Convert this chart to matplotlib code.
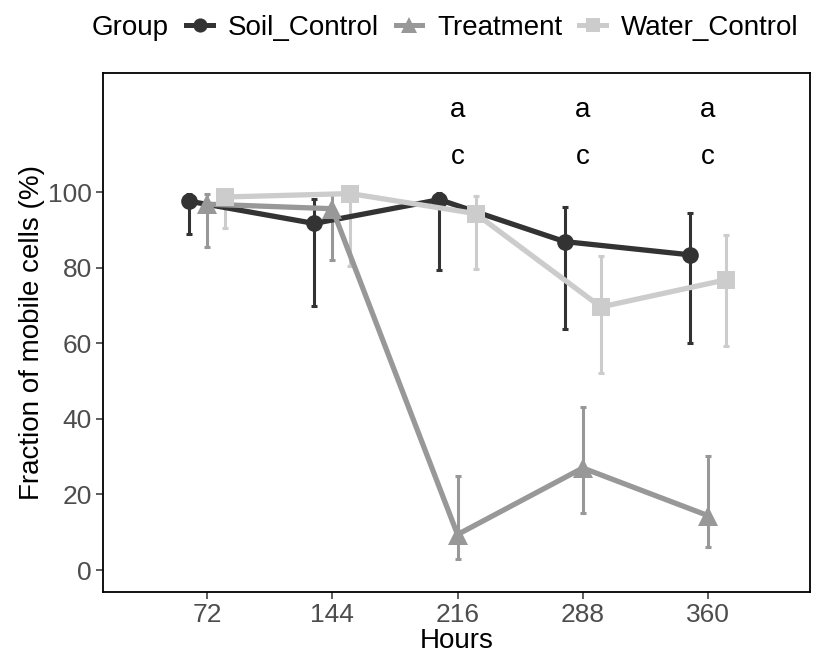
import matplotlib
matplotlib.use("Agg")
import matplotlib.pyplot as plt
from matplotlib.lines import Line2D
import numpy as np

plt.rcParams['font.family'] = ['Liberation Sans', 'DejaVu Sans']

hours = [72, 144, 216, 288, 360]
groups = ["Soil_Control", "Treatment", "Water_Control"]
means = {
    "Soil_Control": [97.6, 91.7, 98.0, 86.9, 83.4],
    "Treatment": [96.8, 95.6, 9.4, 27.0, 14.4],
    "Water_Control": [98.7, 99.6, 94.3, 69.6, 76.8],
}
lower = {
    "Soil_Control": [89.0, 69.8, 79.3, 63.9, 60.0],
    "Treatment": [85.4, 82.0, 2.9, 15.0, 6.2],
    "Water_Control": [90.4, 80.4, 79.6, 52.1, 59.3],
}
upper = {
    "Soil_Control": [99.5, 98.1, 99.8, 96.1, 94.5],
    "Treatment": [99.5, 99.5, 24.9, 43.2, 30.2],
    "Water_Control": [99.5, 99.9, 99.0, 83.1, 88.6],
}
annot_hours = [216, 288, 360]
annot_upper = ["a", "a", "a"]
annot_lower = ["c", "c", "c"]

colors = {"Soil_Control": "#333333", "Treatment": "#989898", "Water_Control": "#CCCCCC"}
markers = {"Soil_Control": "o", "Treatment": "^", "Water_Control": "s"}
msizes = {"Soil_Control": 12, "Treatment": 14, "Water_Control": 12.5}
offsets = {"Soil_Control": -10.4, "Treatment": 0.0, "Water_Control": 10.4}

fig = plt.figure(figsize=(8.25, 6.56), dpi=100)
ax = fig.add_axes([0.1248, 0.0976, 0.8570, 0.7911])

for g in groups:
    x = np.array(hours) + offsets[g]
    m = np.array(means[g])
    lo = m - np.array(lower[g])
    hi = np.array(upper[g]) - m
    ax.errorbar(x, m, yerr=[lo, hi], fmt='none', ecolor=colors[g],
                elinewidth=2.2, capsize=2.2, capthick=2.2, zorder=2)
    ax.plot(x, m, color=colors[g], lw=3.8, marker=markers[g],
            markersize=msizes[g], markeredgewidth=0, zorder=3)

for h, a, c in zip(annot_hours, annot_upper, annot_lower):
    ax.text(h, 121.8, a, ha='center', va='center', fontsize=20, color='black')
    ax.text(h, 109.3, c, ha='center', va='center', fontsize=20, color='black')

ax.set_xlim(12.2, 418.6)
ax.set_ylim(-5.8, 131.5)
ax.set_xticks(hours)
ax.set_xticklabels([str(h) for h in hours])
ax.set_yticks([0, 20, 40, 60, 80, 100])
ax.tick_params(axis='both', labelsize=19, labelcolor='#4D4D4D', color='#333333',
               length=5, width=1.1, pad=3)
for s in ax.spines.values():
    s.set_color('black')
    s.set_linewidth(1.3)
ax.set_xlabel("Hours", fontsize=20, labelpad=1)
ax.set_ylabel("Fraction of mobile cells (%)", fontsize=20, labelpad=2)

fig.text(0.1115, 0.958, "Group", fontsize=20, ha='left', va='center')
handles = [Line2D([0], [0], color=colors[g], lw=3.6, marker=markers[g],
                  markersize=msizes[g] * 0.85, markeredgewidth=0) for g in groups]
fig.legend(handles, groups, loc='center left', bbox_to_anchor=(0.226, 0.958),
           ncol=3, frameon=False, fontsize=20, handlelength=0.95,
           handletextpad=0.55, columnspacing=0.6, borderaxespad=0, borderpad=0)

fig.savefig("out.png", dpi=100)
